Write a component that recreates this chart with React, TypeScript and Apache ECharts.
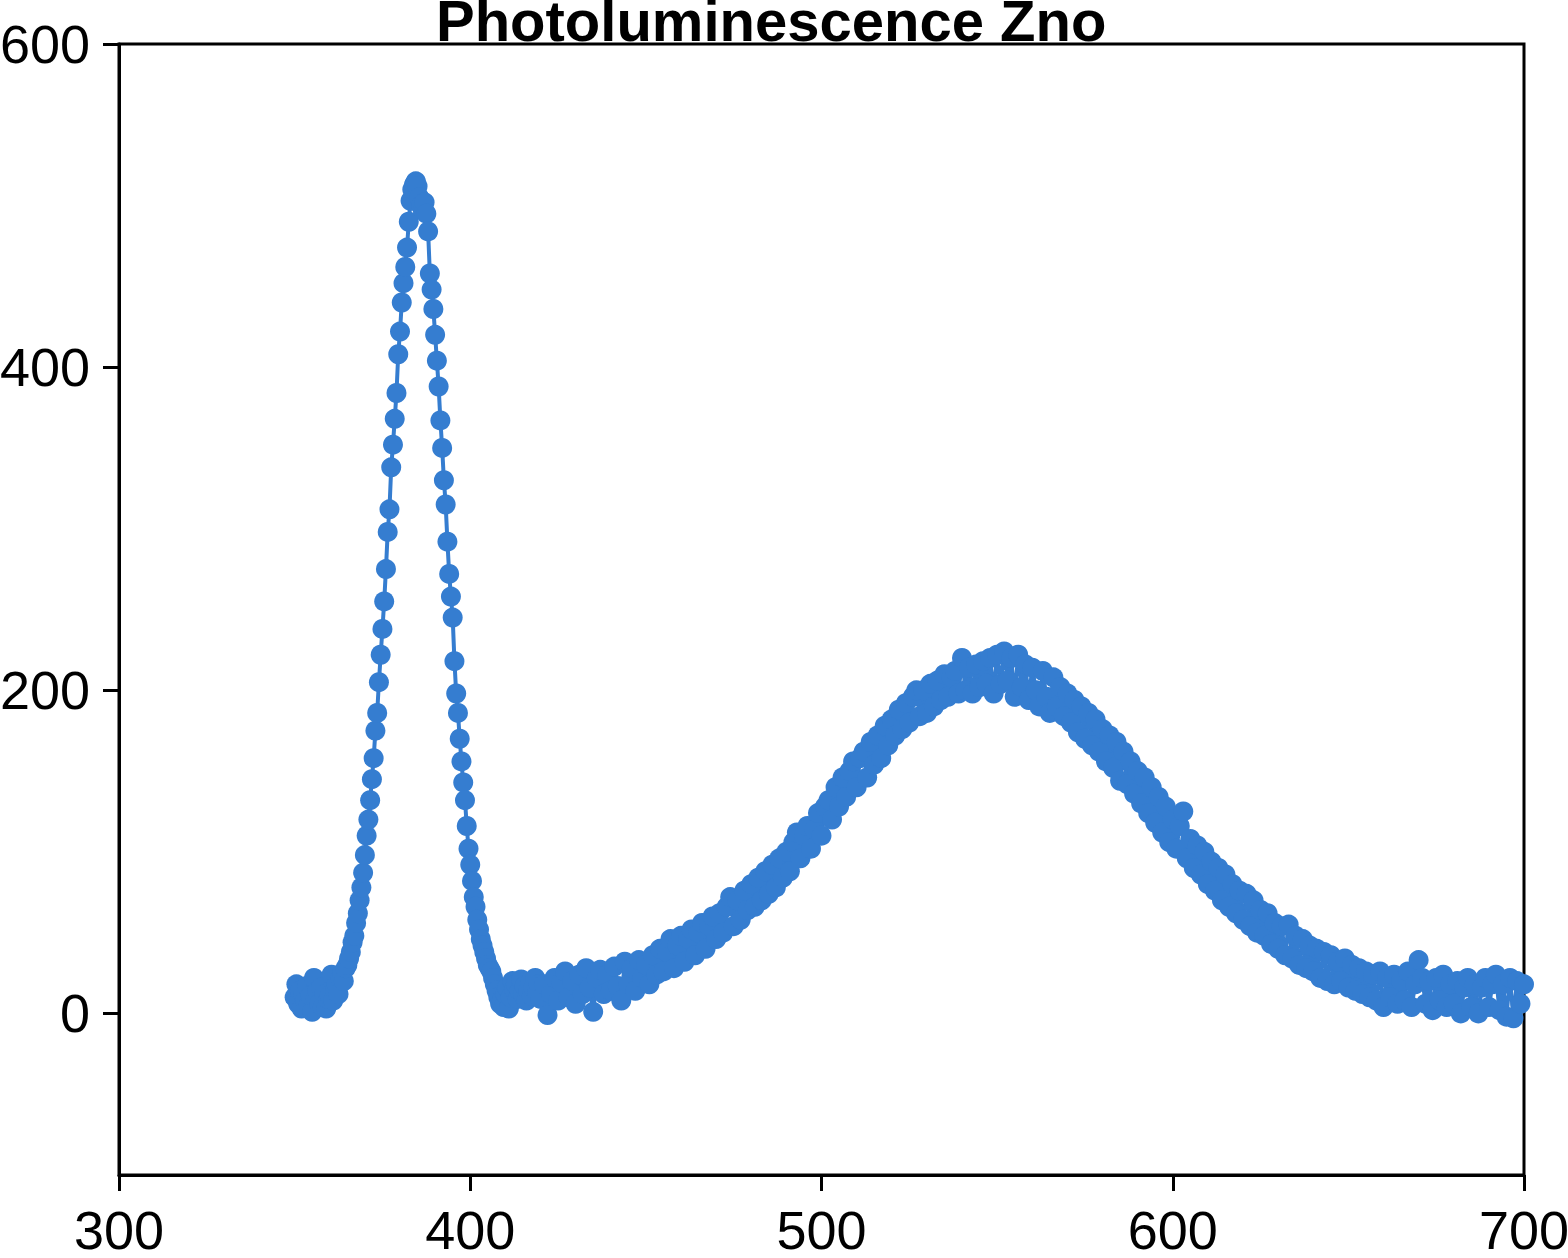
import React, { useEffect, useRef } from 'react';
import * as echarts from 'echarts';

const chartTitle = 'Photoluminescence Zno';

// Excitonic (UV) peak: sampled every 0.5 nm from 350 nm to 420 nm
const peakStart = 350;
const peakStep = 0.5;
const peakIntensity = [
  10, 18, 6, 14, 3, 12, 8, 17, 5, 11, 1, 22, 9, 14, 6, 16, 4, 12, 3, 9,
  11, 24, 8, 14, 18, 12, 22, 25, 20, 28, 30, 34, 38, 44, 48, 56, 62, 70, 78, 87,
  98, 110, 120, 132, 145, 158, 175, 186, 205, 222, 238, 255, 275, 298, 312, 338, 352, 368, 384, 408,
  422, 440, 452, 462, 474, 490, 503, 510, 513, 515, 512, 505, 500, 497, 502, 495, 484, 458, 448, 436,
  420, 404, 388, 367, 350, 330, 315, 292, 272, 258, 245, 218, 198, 186, 170, 156, 143, 132, 116, 102,
  92, 82, 72, 66, 58, 52, 46, 42, 38, 34, 30, 28, 26, 22, 18, 14, 10, 6, 8, 4,
  12, 16, 3, 10, 20, 15, 18, 9, 14, 21, 12, 17, 8, 14, 19, 11, 16, 22, 13, 18, 9,
];

// Defect (visible) band: sampled every 1 nm from 421 nm to 700 nm
const bandStart = 421;
const bandStep = 1;
const bandIntensity = [
  18, -1, 12, 22, 8, 19, 26, 10, 20, 6,
  24, 12, 28, 16, 1, 22, 27, 12, 24, 14,
  29, 17, 8, 32, 18, 28, 14, 33, 22, 30,
  18, 36, 24, 40, 26, 38, 46, 28, 42, 48,
  32, 46, 52, 36, 50, 56, 40, 54, 60, 46,
  62, 50, 66, 72, 54, 70, 58, 76, 64, 80,
  66, 84, 70, 88, 74, 92, 78, 96, 84, 100,
  88, 106, 112, 96, 110, 116, 102, 114, 124, 110,
  128, 132, 120, 140, 128, 146, 134, 150, 156, 140,
  158, 162, 146, 168, 154, 172, 158, 178, 166, 182,
  172, 188, 176, 192, 180, 196, 200, 184, 200, 186,
  204, 190, 206, 194, 210, 196, 208, 212, 198, 220,
  200, 214, 198, 216, 202, 218, 204, 220, 198, 222,
  204, 224, 206, 220, 196, 222, 202, 216, 194, 214,
  200, 190, 212, 196, 186, 208, 190, 202, 184, 198,
  180, 194, 174, 190, 170, 186, 166, 182, 162, 176,
  156, 172, 152, 168, 144, 162, 142, 156, 136, 150,
  130, 146, 124, 140, 118, 134, 112, 128, 106, 120,
  102, 116, 125, 96, 108, 90, 104, 86, 100, 80,
  94, 76, 90, 70, 86, 66, 80, 62, 76, 58,
  74, 54, 70, 50, 64, 48, 62, 43, 56, 40,
  54, 36, 55, 34, 48, 30, 46, 28, 42, 26,
  40, 22, 38, 20, 36, 18, 32, 20, 34, 16,
  30, 14, 28, 12, 26, 10, 24, 8, 26, 4,
  22, 10, 24, 6, 20, 8, 26, 4, 18, 33,
  22, 6, 20, 2, 22, 8, 24, 4, 18, 6,
  20, 0, 16, 22, 4, 18, 0, 16, 22, 4,
  18, 24, 2, 18, -2, 22, -3, 20, 6, 18,
];

const xMin = 300;
const xMax = 700;
const xInterval = 100;
const yMin = -100;
const yMax = 600;
const yTicks = [0, 200, 400, 600];

const FONT = 'Liberation Sans, Arial, Helvetica, sans-serif';
const BLUE = '#357DD0';

export default function App() {
  const ref = useRef<HTMLDivElement>(null);

  useEffect(() => {
    if (!ref.current) return;
    const chart = echarts.init(ref.current, null, { renderer: 'svg' });
    const data: number[][] = [
      ...peakIntensity.map((v, i) => [peakStart + i * peakStep, v]),
      ...bandIntensity.map((v, i) => [bandStart + i * bandStep, v]),
    ];
    const axisLineStyle = { color: '#000', width: 3 };
    chart.setOption({
      animation: false,
      backgroundColor: '#ffffff',
      title: {
        text: chartTitle,
        left: 436,
        top: -9,
        padding: 0,
        textStyle: { fontFamily: FONT, fontWeight: 'bold', fontSize: 58, color: '#000' },
      },
      grid: {
        left: 119,
        right: 44,
        top: 44,
        bottom: 83,
        containLabel: false,
        outerBoundsMode: 'none',
        show: true,
        borderColor: '#000',
        borderWidth: 3,
        backgroundColor: 'transparent',
      },
      xAxis: {
        type: 'value',
        min: xMin,
        max: xMax,
        interval: xInterval,
        axisLine: { show: true, onZero: false, lineStyle: axisLineStyle },
        axisTick: { show: true, inside: false, length: 16, lineStyle: axisLineStyle },
        axisLabel: {
          margin: 28,
          fontSize: 54,
          lineHeight: 54,
          color: '#000',
          fontFamily: FONT,
          showMinLabel: true,
          showMaxLabel: true,
        },
        splitLine: { show: false },
      },
      yAxis: {
        type: 'value',
        min: yMin,
        max: yMax,
        axisLine: { show: true, onZero: false, lineStyle: axisLineStyle },
        axisTick: { show: true, inside: false, length: 16, customValues: yTicks, lineStyle: axisLineStyle },
        axisLabel: {
          margin: 29,
          fontSize: 54,
          color: '#000',
          fontFamily: FONT,
          customValues: yTicks,
        },
        splitLine: { show: false },
      },
      series: [
        {
          type: 'line',
          data,
          symbol: 'circle',
          symbolSize: 20,
          showAllSymbol: true,
          clip: true,
          itemStyle: { color: BLUE },
          lineStyle: { color: BLUE, width: 4 },
        },
      ],
    });
    return () => chart.dispose();
  }, []);

  return (
    <div
      ref={ref}
      style={{ position: 'fixed', left: 0, top: 0, width: 1568, height: 1258 }}
    />
  );
}
